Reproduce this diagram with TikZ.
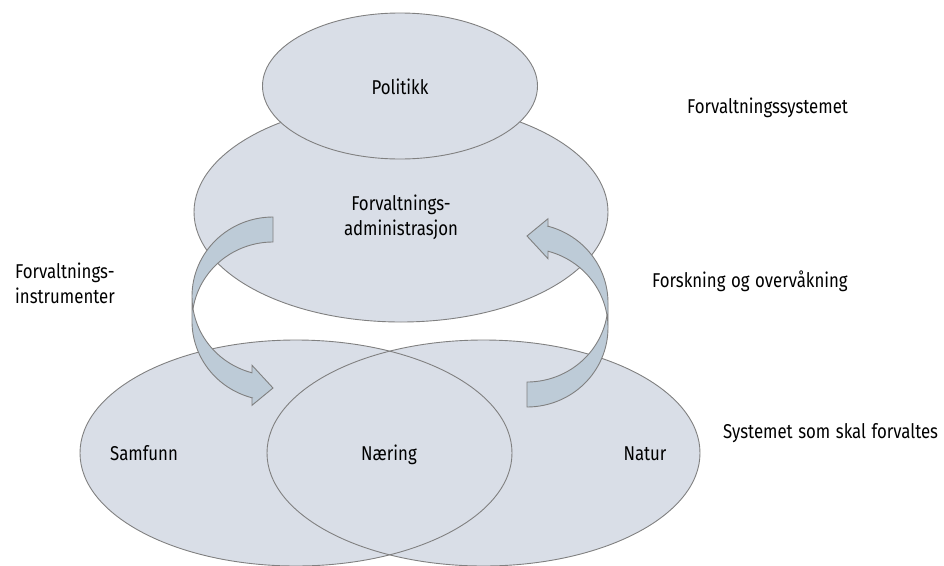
\documentclass[tikz,border=0pt]{standalone}
\usepackage{fontspec}
\setmainfont{Fira Sans}[FakeStretch=0.84, WordSpace=1.25]
\usetikzlibrary{shapes.geometric}
\definecolor{efill}{HTML}{D9DEE7}
\definecolor{afill}{HTML}{BDCBD7}
\definecolor{edgegray}{HTML}{808080}
\begin{document}
\begin{tikzpicture}[x=1pt,y=-1pt,
  oval/.style={ellipse, draw=edgegray, fill=efill, line width=0.9pt, inner sep=0pt},
  ovalfill/.style={ellipse, fill=efill, inner sep=0pt},
  outline/.style={draw=edgegray, line width=0.9pt},
  lbl/.style={font=\fontsize{20}{25}\selectfont, inner sep=0pt},
  bandfill/.style={fill=afill},
  bandline/.style={draw=edgegray, line width=0.9pt, line join=miter}]
\useasboundingbox (0,0) rectangle (944,565);

% upper ellipses
\node[oval, minimum width=414pt, minimum height=220pt] (admin) at (401,212) {};
\node[oval, minimum width=275pt, minimum height=146pt] (politikk) at (400,86) {};

% lower ellipses
\node[ovalfill, minimum width=432pt, minimum height=226pt] (samfunn) at (296,453) {};
\node[ovalfill, minimum width=433pt, minimum height=226pt] (natur) at (483.5,453) {};
\draw[outline] (samfunn.center) ellipse [x radius=216, y radius=113];
\draw[outline] (natur.center) ellipse [x radius=216.5, y radius=113];

% curved block arrow, local coordinates (y down)
\newcommand{\curvedblock}{%
  \fill[bandfill]
    plot[domain=180:270, samples=40] ({81+81*cos(\x)},{79.25+79.25*sin(\x)})
    -- plot[domain=270:180, samples=40] ({81+81*cos(\x)},{104.25+79.25*sin(\x)})
    -- cycle;
  \fill[bandfill]
    plot[domain=180:105.026, samples=40] ({81+81*cos(\x)},{79.25+79.25*sin(\x)})
    -- (60,148.29) -- (81,171) -- (60,188.29) -- (60,180.79)
    -- plot[domain=105.026:180, samples=40] ({81+81*cos(\x)},{104.25+79.25*sin(\x)})
    -- cycle;
  \draw[bandline]
    plot[domain=189.075:270, samples=40] ({81+81*cos(\x)},{104.25+79.25*sin(\x)})
    -- plot[domain=270:105.026, samples=60] ({81+81*cos(\x)},{79.25+79.25*sin(\x)})
    -- (60,148.29) -- (81,171) -- (60,188.29) -- (60,180.79)
    -- plot[domain=105.026:180, samples=40] ({81+81*cos(\x)},{104.25+79.25*sin(\x)})
    -- (0,79.25);
}
\begin{scope}[shift={(192,217)}]
  \curvedblock
\end{scope}
\begin{scope}[shift={(608,407)}, rotate=180]
  \curvedblock
\end{scope}

% labels inside shapes
\node[lbl, anchor=base] (tpol) at (400,94) {Politikk};
\node[lbl, anchor=base] (tadm1) at (401,210) {Forvaltnings-};
\node[lbl, anchor=base] (tadm2) at (401,235) {administrasjon};
\node[lbl, anchor=base] (tsam) at (144,460) {Samfunn};
\node[lbl, anchor=base] (tnae) at (389,460) {Næring};
\node[lbl, anchor=base] (tnat) at (645,460) {Natur};

% side labels
\node[lbl, anchor=base west] (tsys) at (687,113) {Forvaltningssystemet};
\node[lbl, anchor=base west] (tins1) at (15,278) {Forvaltnings-};
\node[lbl, anchor=base west] (tins2) at (15,303) {instrumenter};
\node[lbl, anchor=base west] (tfor) at (652,287) {Forskning og overvåkning};
\node[lbl, anchor=base west] (tsko) at (723,438) {Systemet som skal forvaltes};
\end{tikzpicture}
\end{document}
